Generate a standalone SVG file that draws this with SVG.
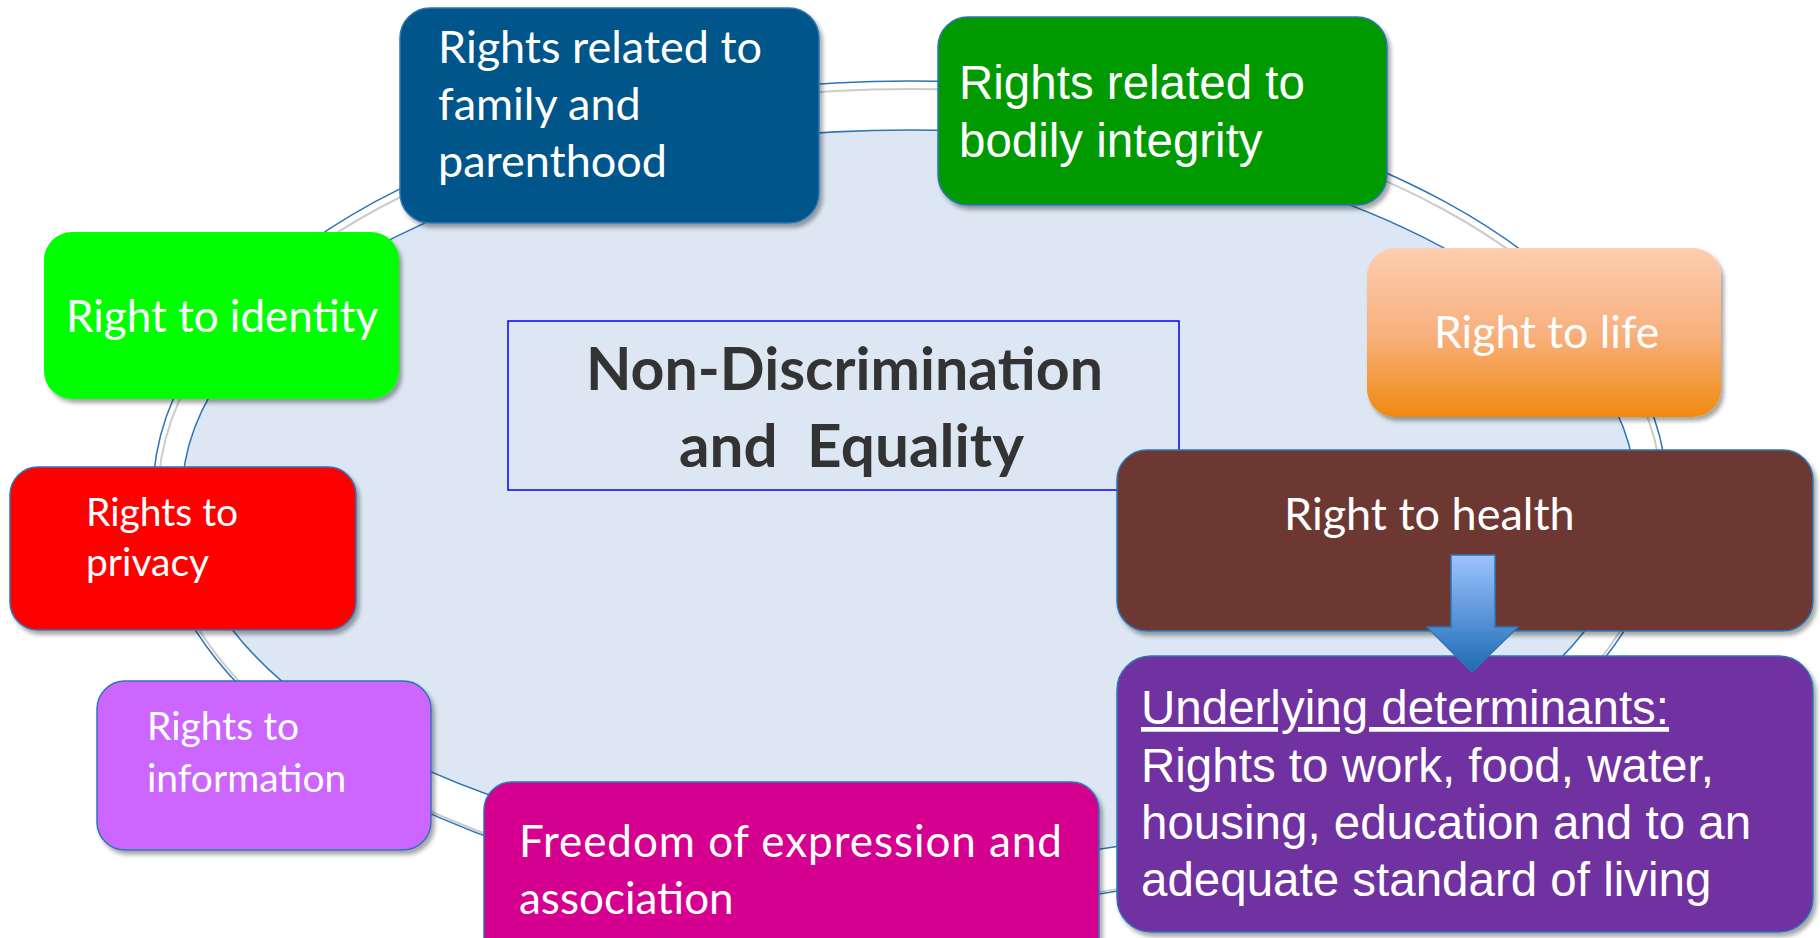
<svg xmlns="http://www.w3.org/2000/svg" width="1820" height="938" viewBox="0 0 1820 938">
<defs>
  <filter id="sh" x="-10%" y="-10%" width="125%" height="130%">
    <feDropShadow dx="3" dy="4" stdDeviation="2" flood-color="#000" flood-opacity="0.35"/>
  </filter>
  <linearGradient id="gOrange" x1="0" y1="0" x2="0" y2="1">
    <stop offset="0" stop-color="#FDCEB0"/>
    <stop offset="0.5" stop-color="#F8B17F"/>
    <stop offset="1" stop-color="#F08A10"/>
  </linearGradient>
  <linearGradient id="gArrow" x1="0" y1="0" x2="0" y2="1">
    <stop offset="0" stop-color="#9DC3FF"/>
    <stop offset="1" stop-color="#1C6BB3"/>
  </linearGradient>
  <style>
    .box { stroke: #2E75B6; stroke-width: 1.5; filter: url(#sh); }
    .cal { font-family: Lato, "Liberation Sans", sans-serif; fill: #FFFFFF; }
    .ari { font-family: "Liberation Sans", Arial, sans-serif; fill: #FFFFFF; font-size: 47.5px; }
    .ring { stroke: #2E75B6; stroke-width: 1.5; }
    .ctr { font-family: Lato, "Liberation Sans", sans-serif; font-weight: bold; font-size: 59.5px; fill: #333333; }
  </style>
</defs>
<rect width="1820" height="938" fill="#FFFFFF"/>

<g id="ring">
  <ellipse class="ring" cx="910" cy="494" rx="757" ry="413" fill="#FFFFFF"/>
  <ellipse cx="910" cy="497" rx="752" ry="408" fill="none" stroke="#CCCCCC" stroke-width="2"/>
  <ellipse class="ring" cx="909" cy="496" rx="727" ry="366" fill="#DCE7F3"/>
</g>

<g id="center">
  <rect x="508" y="321" width="671" height="169" fill="none" stroke="#0000FF" stroke-width="1.5"/>
  <text class="ctr" x="586" y="390" textLength="517" lengthAdjust="spacingAndGlyphs">Non-Discrimination</text>
  <text class="ctr" x="679" y="467" textLength="345" lengthAdjust="spacingAndGlyphs" xml:space="preserve" style="white-space:pre">and  Equality</text>
</g>

<g id="connectors"></g>

<g id="family">
  <rect class="box" x="400" y="8" width="419" height="215" rx="30" fill="#02548A"/>
  <text class="cal" font-size="45"><tspan x="438" y="63">Rights related to</tspan><tspan x="438" y="120">family and</tspan><tspan x="438" y="177">parenthood</tspan></text>
</g>

<g id="bodily">
  <rect class="box" x="938" y="17" width="449" height="188" rx="30" fill="#009900"/>
  <text class="ari"><tspan x="959" y="99">Rights related to</tspan><tspan x="959" y="157">bodily integrity</tspan></text>
</g>

<g id="identity">
  <rect class="box" x="44" y="232" width="355" height="167" rx="28" fill="#00FF00" style="stroke:none"/>
  <text class="cal" font-size="44" x="66" y="332">Right to identity</text>
</g>

<g id="life">
  <rect class="box" x="1367" y="248" width="354" height="169" rx="28" fill="url(#gOrange)" style="stroke:none"/>
  <text class="cal" font-size="44.5" x="1434" y="348">Right to life</text>
</g>

<g id="privacy">
  <rect class="box" x="10" y="467" width="346" height="163" rx="28" fill="#FF0000"/>
  <text class="cal" font-size="39"><tspan x="86" y="526">Rights to</tspan><tspan x="86" y="576">privacy</tspan></text>
</g>

<g id="information">
  <rect class="box" x="97" y="681" width="334" height="169" rx="28" fill="#CC66FF"/>
  <text class="cal" font-size="39"><tspan x="147" y="740">Rights to</tspan><tspan x="147" y="792">information</tspan></text>
</g>

<g id="freedom">
  <rect class="box" x="484" y="782" width="615" height="190" rx="28" fill="#D5008F"/>
  <text class="cal" font-size="44"><tspan x="519" y="857" textLength="543" lengthAdjust="spacing">Freedom of expression and</tspan><tspan x="519" y="914">association</tspan></text>
</g>

<g id="health">
  <rect class="box" x="1117" y="450" width="696" height="181" rx="30" fill="#6E3833"/>
  <text class="cal" font-size="45" x="1284" y="530">Right to health</text>
</g>

<g id="determinants">
  <rect class="box" x="1117" y="656" width="696" height="276" rx="34" fill="#7030A0"/>
  <text class="ari"><tspan x="1141" y="724" text-decoration="underline">Underlying determinants:</tspan><tspan x="1141" y="782">Rights to work, food, water,</tspan><tspan x="1141" y="839">housing, education and to an</tspan><tspan x="1141" y="896">adequate standard of living</tspan></text>
</g>

<g id="arrow">
  <path d="M1451 555 H1495 V627 H1518 L1472 672 L1427 627 H1451 Z" fill="url(#gArrow)" stroke="#2E75B6" stroke-width="1.5"/>
</g>
</svg>
